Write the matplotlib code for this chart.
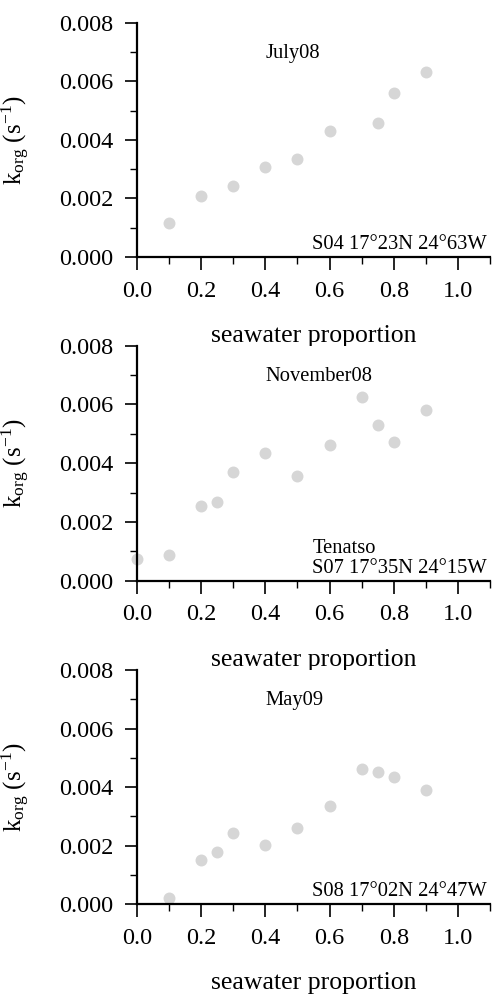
import matplotlib
matplotlib.use("Agg")
import matplotlib.pyplot as plt
from matplotlib.ticker import MultipleLocator, FormatStrFormatter

plt.rcParams['font.family'] = ['Liberation Serif', 'DejaVu Serif']
plt.rcParams['mathtext.fontset'] = 'custom'
plt.rcParams['mathtext.rm'] = 'Liberation Serif'
plt.rcParams['mathtext.it'] = 'Liberation Serif:italic'

# seawater proportion and k_org (s^-1) for each campaign
july08_x = [0.1, 0.2, 0.3, 0.4, 0.5, 0.6, 0.75, 0.8, 0.9]
july08_k = [0.00117, 0.00208, 0.00242, 0.00307, 0.00333, 0.00431, 0.00457, 0.00559, 0.00631]

nov08_x = [0.0, 0.1, 0.2, 0.25, 0.3, 0.4, 0.5, 0.6, 0.7, 0.75, 0.8, 0.9]
nov08_k = [0.00074, 0.00087, 0.00255, 0.00268, 0.00371, 0.00434, 0.00358, 0.00462, 0.00624, 0.00529, 0.00473, 0.00581]

may09_x = [0.1, 0.2, 0.25, 0.3, 0.4, 0.5, 0.6, 0.7, 0.75, 0.8, 0.9]
may09_k = [0.00020, 0.00150, 0.00179, 0.00245, 0.00203, 0.00259, 0.00336, 0.00462, 0.00451, 0.00436, 0.00391]

titles = ["July08", "November08", "May09"]
stations = ["S04 17°23N 24°63W", "S07 17°35N 24°15W", "S08 17°02N 24°47W"]
sites = [None, "Tenatso", None]
series = [(july08_x, july08_k), (nov08_x, nov08_k), (may09_x, may09_k)]

fig = plt.figure(figsize=(4.92, 9.94), dpi=100)
boxes = [(0.2785, 0.7414, 0.7175, 0.2358),
         (0.2785, 0.4158, 0.7175, 0.2364),
         (0.2785, 0.0902, 0.7175, 0.2358)]

for box, (xs, ks), title, station, site in zip(boxes, series, titles, stations, sites):
    ax = fig.add_axes(box)
    ax.plot(xs, ks, 'o', color='#d6d6d6', markersize=8.6, markeredgewidth=0,
            clip_on=False, zorder=1)
    ax.set_xlim(0, 1.1)
    ax.set_ylim(0, 0.008)
    ax.spines['top'].set_visible(False)
    ax.spines['right'].set_visible(False)
    for s in ['left', 'bottom']:
        ax.spines[s].set_linewidth(1.6)
        ax.spines[s].set_zorder(3)
    ax.xaxis.set_major_locator(MultipleLocator(0.2))
    ax.xaxis.set_minor_locator(MultipleLocator(0.1))
    ax.yaxis.set_major_locator(MultipleLocator(0.002))
    ax.yaxis.set_minor_locator(MultipleLocator(0.001))
    ax.xaxis.set_major_formatter(FormatStrFormatter('%.1f'))
    ax.yaxis.set_major_formatter(FormatStrFormatter('%.3f'))
    ax.tick_params(which='major', direction='out', length=9, width=1.2,
                   labelsize=17.5)
    ax.tick_params(which='minor', direction='out', length=5, width=1.0)
    ax.tick_params(axis='x', which='major', pad=8)
    ax.tick_params(axis='y', which='major', pad=8)

    ax.set_ylabel(r'$\mathrm{k_{org}}$ $\mathrm{(s^{-1})}$', fontsize=18)
    ax.yaxis.set_label_coords(-0.297, 0.5)
    ax.text(0.5, -0.362, 'seawater proportion', transform=ax.transAxes,
            ha='center', va='baseline', fontsize=18.5)

    ax.text(0.363, 0.87, title, transform=ax.transAxes,
            ha='left', va='center', fontsize=14.8)
    ax.text(0.9915, 0.034, station, transform=ax.transAxes,
            ha='right', va='baseline', fontsize=14.8)
    if site:
        ax.text(0.499, 0.119, site, transform=ax.transAxes,
                ha='left', va='baseline', fontsize=14.8)

fig.savefig('out.png', dpi=100)
